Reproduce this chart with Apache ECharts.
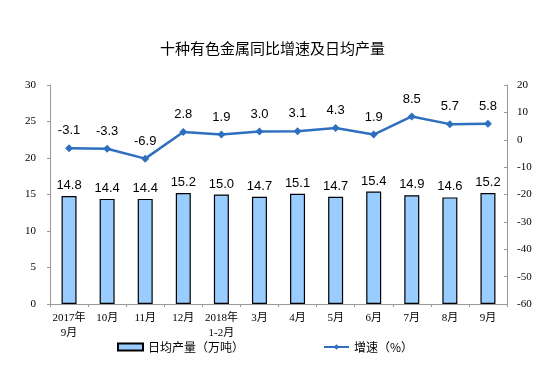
<!DOCTYPE html>
<html><head><meta charset="utf-8">
<script src="https://cdn.jsdelivr.net/npm/echarts@6/dist/echarts.min.js"></script>
<style>html,body{margin:0;padding:0;background:#fff}#c{width:545px;height:378px}</style>
</head><body><div id="c"></div>
<script>
var categories = ['2017年\n9月','10月','11月','12月','2018年\n1-2月','3月','4月','5月','6月','7月','8月','9月'];
var output = [14.8,14.4,14.4,15.2,15.0,14.7,15.1,14.7,15.4,14.9,14.6,15.2];
var growth = [-3.1,-3.3,-6.9,2.8,1.9,3.0,3.1,4.3,1.9,8.5,5.7,5.8];
var leftTicks = [0,5,10,15,20,25,30];
var rightTicks = [-60,-50,-40,-30,-20,-10,0,10,20];

var serif = '"Liberation Serif","Noto Sans CJK SC",serif';
var sans = '"Liberation Sans","Noto Sans CJK SC",sans-serif';
var chart = echarts.init(document.getElementById('c'));
chart.setOption({
  animation:false,
  title:{text:'十种有色金属同比增速及日均产量',left:'center',top:36,
    textStyle:{fontSize:15,fontWeight:'normal',color:'#000',fontFamily:'"Noto Sans CJK SC",sans-serif'}},
  legend:{bottom:20,left:112,itemGap:79,itemWidth:25,itemHeight:7,
    textStyle:{fontSize:12,color:'#000',fontFamily:'"Noto Sans CJK SC",sans-serif'},
    data:[{name:'日均产量（万吨）',icon:'rect'},{name:'增速（%）'}]},
  grid:{left:50,right:38,top:85,bottom:74},
  xAxis:{type:'category',data:categories,
    axisLine:{lineStyle:{color:'#999'}},
    axisTick:{show:true,length:3,lineStyle:{color:'#999'}},
    axisLabel:{interval:0,fontSize:11,color:'#000',fontFamily:serif,lineHeight:15,margin:7}},
  yAxis:[{type:'value',min:leftTicks[0],max:leftTicks[leftTicks.length-1],interval:5,
    splitLine:{show:false},axisLine:{show:true,lineStyle:{color:'#999'}},
    axisTick:{show:true,length:3,lineStyle:{color:'#999'}},
    axisLabel:{fontSize:11,color:'#000',fontFamily:serif,margin:14}},
   {type:'value',min:rightTicks[0],max:rightTicks[rightTicks.length-1],interval:10,
    splitLine:{show:false},axisLine:{show:true,lineStyle:{color:'#999'}},
    axisTick:{show:true,inside:true,length:3,lineStyle:{color:'#999'}},
    axisLabel:{fontSize:11,color:'#000',fontFamily:serif,margin:10}}],
  series:[
    {name:'日均产量（万吨）',type:'bar',data:output,barWidth:15,yAxisIndex:0,
     itemStyle:{color:'#99CCFF',borderColor:'#000',borderWidth:1.2},
     label:{show:true,position:'top',fontSize:13,color:'#000',fontFamily:sans,distance:4,
       formatter:function(p){return p.value.toFixed(1);}}},
    {name:'增速（%）',type:'line',data:growth,yAxisIndex:1,
     symbol:'diamond',symbolSize:8,
     lineStyle:{color:'#2E6FBF',width:2.5},itemStyle:{color:'#2E6FBF'},
     label:{show:true,position:'top',fontSize:13,color:'#000',fontFamily:sans,distance:7,
       formatter:function(p){return p.value.toFixed(1);}}}
  ]
});
</script></body></html>
